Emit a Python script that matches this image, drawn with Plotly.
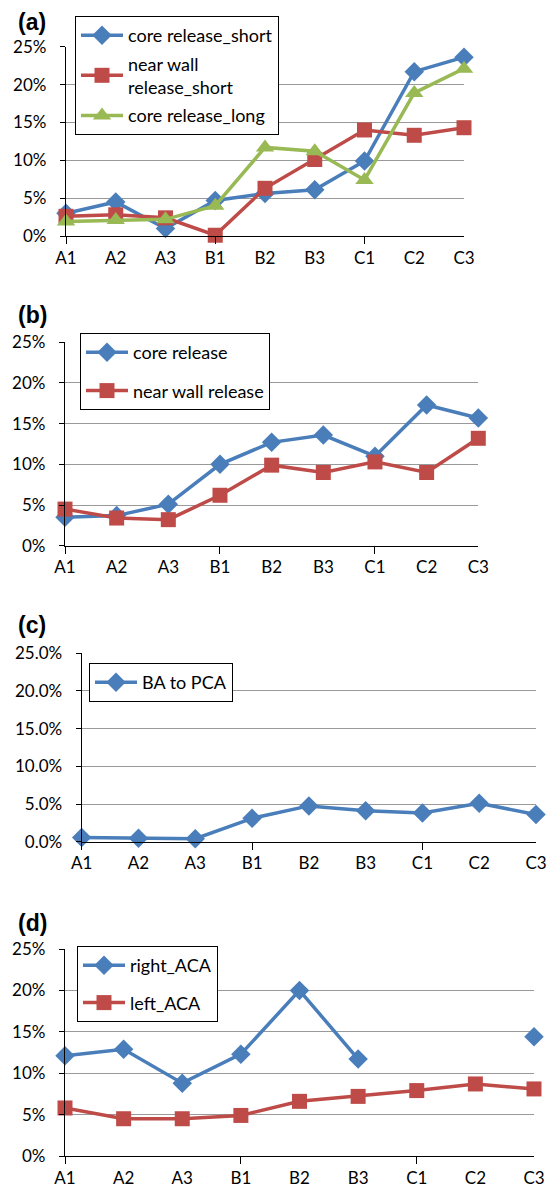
import plotly.graph_objects as go

categories = ["A1", "A2", "A3", "B1", "B2", "B3", "C1", "C2", "C3"]

# Panel (a)
core_release_short = [3.0, 4.5, 1.0, 4.7, 5.6, 6.1, 9.9, 21.7, 23.6]
near_wall_release_short = [2.6, 2.8, 2.4, 0.1, 6.3, 10.1, 14.0, 13.3, 14.3]
core_release_long = [1.9, 2.1, 2.2, 4.0, 11.7, 11.2, 7.4, 18.9, 22.1]

# Panel (b)
core_release = [3.5, 3.7, 5.1, 10.0, 12.7, 13.6, 11.0, 17.3, 15.7]
near_wall_release = [4.5, 3.4, 3.2, 6.2, 9.9, 9.0, 10.3, 9.0, 13.2]

# Panel (c)
ba_to_pca = [0.55, 0.45, 0.4, 3.1, 4.75, 4.1, 3.8, 5.1, 3.6]

# Panel (d)
right_aca = [12.1, 12.9, 8.8, 12.3, 20.0, 11.7, None, None, 14.4]
left_aca = [5.8, 4.5, 4.5, 4.9, 6.6, 7.2, 7.9, 8.7, 8.1]

y_ticks = [0, 5, 10, 15, 20, 25]
panel_labels = ["(a)", "(b)", "(c)", "(d)"]

BLUE = "#4A7EBB"
RED = "#BE4B48"
GREEN = "#98B954"
FONT = "Lato"
FS = 17
LFS = 18

W, H = 555, 1190
def fx(px):
    return px / W
def fy(py):
    return 1 - py / H

xi = list(range(len(categories)))

fig = go.Figure()

marker_defs = {
    "diamond": dict(symbol="diamond", size=15),
    "square": dict(symbol="square", size=15),
    "triangle": dict(symbol="triangle-up", size=16),
}

def add(series, name, color, mk, axis_n, legend_name):
    m = dict(marker_defs[mk])
    m["color"] = color
    suffix = "" if axis_n == 1 else str(axis_n)
    fig.add_trace(go.Scatter(
        x=xi, y=series, name=name, mode="lines+markers",
        line=dict(color=color, width=3.5), marker=m,
        xaxis="x" + suffix, yaxis="y" + suffix,
        legend=legend_name, legendgroup=name, connectgaps=False,
        cliponaxis=False,
    ))

add(core_release_short, "core release_short", BLUE, "diamond", 1, "legend")
add(near_wall_release_short, "near wall<br>release_short", RED, "square", 1, "legend")
add(core_release_long, "core release_long", GREEN, "triangle", 1, "legend")
add(core_release, "core release", BLUE, "diamond", 2, "legend2")
add(near_wall_release, "near wall release", RED, "square", 2, "legend2")
add(ba_to_pca, "BA to PCA", BLUE, "diamond", 3, "legend3")
add(right_aca, "right_ACA", BLUE, "diamond", 4, "legend4")
add(left_aca, "left_ACA", RED, "square", 4, "legend4")

# panel geometry (pixels): x_left, x_right, y_zero, y_top
panels = [
    (66, 464, 236, 46.7),
    (65, 478.3, 545.7, 342.3),
    (81.7, 536, 841.7, 653.3),
    (65, 534, 1156, 949),
]

layout = dict(
    width=W, height=H, margin=dict(l=0, r=0, t=0, b=0, pad=0, autoexpand=False),
    paper_bgcolor="white", plot_bgcolor="white",
    font=dict(family=FONT, size=FS, color="black"),
    showlegend=True,
)

for i, (xl, xr, yz, yt) in enumerate(panels):
    n = i + 1
    sx = "" if n == 1 else str(n)
    layout["xaxis" + sx] = dict(
        domain=[fx(xl), fx(xr)], anchor="y" + sx, range=[0, 8],
        tickmode="array", tickvals=xi, ticktext=categories,
        ticks="outside", ticklen=6, tickcolor="rgba(0,0,0,0)",
        showline=True, linecolor="black", linewidth=1.3,
        showgrid=False, zeroline=False, fixedrange=True, automargin=False,
        minor=dict(tickmode="array", tickvals=[0, 3, 6], ticks="outside",
                   ticklen=7, tickcolor="black", tickwidth=1.3, showgrid=False),
        tickfont=dict(family=FONT, size=FS),
    )
    layout["yaxis" + sx] = dict(
        domain=[fy(yz), fy(yt)], anchor="x" + sx, range=[0, 25],
        tickmode="array", tickvals=y_ticks,
        ticktext=[(f"{v:.1f}%" if n == 3 else f"{v}%") for v in y_ticks],
        ticks="outside", ticklen=5, tickcolor="black", tickwidth=1.3,
        ticklabelstandoff=10,
        showline=True, linecolor="black", linewidth=1.3,
        showgrid=True, gridcolor="#999999", gridwidth=1.3,
        zeroline=False, fixedrange=True, automargin=False,
        tickfont=dict(family=FONT, size=FS),
    )

legend_common = dict(
    bgcolor="white", bordercolor="black", borderwidth=1,
    font=dict(family=FONT, size=LFS, color="black"),
    xanchor="left", yanchor="top", xref="paper", yref="paper",
    traceorder="grouped", itemsizing="trace", itemwidth=42,
)
layout["legend"] = dict(legend_common, x=fx(75), y=fy(16), tracegroupgap=2)
layout["legend2"] = dict(legend_common, x=fx(80), y=fy(333), tracegroupgap=12)
layout["legend3"] = dict(legend_common, x=fx(89), y=fy(663), tracegroupgap=6)
layout["legend4"] = dict(legend_common, x=fx(77), y=fy(946), tracegroupgap=11)

label_y = [22, 315, 625, 923]
annotations = []
for lab, ly in zip(panel_labels, label_y):
    annotations.append(dict(
        text=lab, x=fx(32), y=fy(ly), xref="paper", yref="paper",
        xanchor="center", yanchor="middle", showarrow=False,
        font=dict(family="Liberation Sans", size=23, color="black", weight="bold"),
    ))
layout["annotations"] = annotations

fig.update_layout(**layout)
fig.write_html(
    "out.html",
    config={"displayModeBar": False},
    post_script="document.body.style.margin='0px';document.body.style.overflow='hidden';",
)
